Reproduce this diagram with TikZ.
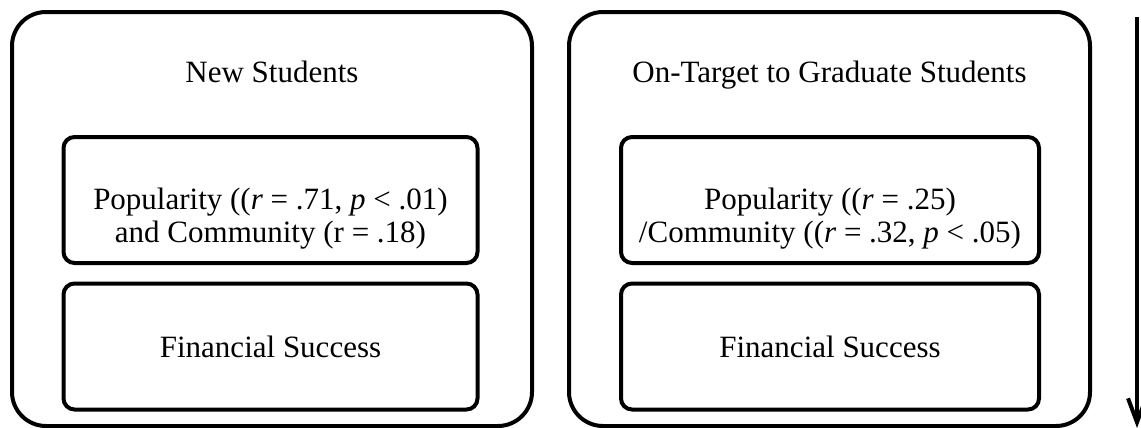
\documentclass[tikz,border=0pt]{standalone}
\usepackage{fontspec}
\setmainfont{Liberation Serif}
\usetikzlibrary{arrows.meta,positioning}
\tikzset{
  grpbox/.style={draw=black,line width=2pt,rounded corners=17pt,minimum width=260pt,minimum height=207pt,inner sep=0pt},
  corrbox/.style={draw=black,line width=2pt,rounded corners=5.5pt,minimum width=207pt,minimum height=63pt,inner sep=0pt,align=center},
  grptitle/.style={inner sep=0pt,anchor=base},
  corrtext/.style={inner sep=0pt,align=center},
  flowarr/.style={-{Straight Barb[length=12pt,width=9pt]},line width=2pt}
}
\begin{document}
\begin{tikzpicture}[x=0.5pt,y=-0.5pt,font=\fontsize{15.5}{16.5}\selectfont]
  \clip (0,0) rectangle (1141,428);
  % new students
  \node[grpbox] (newgrp) at (272,219) {};
  \node[grptitle] (newttl) at (272,83) {New Students};
  \node[corrbox] (newpop) at (270.5,200) {};
  \node[corrtext] (newpoptxt) at (270.5,219) {Popularity ((\textit{r} = .71, \textit{p} < .01)\\ and Community (r = .18)};
  \node[corrbox] (newfin) at (270.5,346.5) {Financial Success};
  % on-target students
  \node[grpbox,minimum width=260.5pt] (ontgrp) at (829.5,219) {};
  \node[grptitle] (ontttl) at (829.5,83) {On-Target to Graduate Students};
  \node[corrbox,minimum width=209pt] (ontpop) at (830,200) {};
  \node[corrtext] (ontpoptxt) at (830,219) {Popularity ((\textit{r} = .25)\\ /Community ((\textit{r} = .32, \textit{p} < .05)};
  \node[corrbox,minimum width=209pt] (ontfin) at (830,346.5) {Financial Success};
  % flow
  \coordinate (flowtop) at (1137,17);
  \coordinate (flowend) at (1137,428);
  \draw[flowarr] (flowtop) -- (flowend);
\end{tikzpicture}
\end{document}
